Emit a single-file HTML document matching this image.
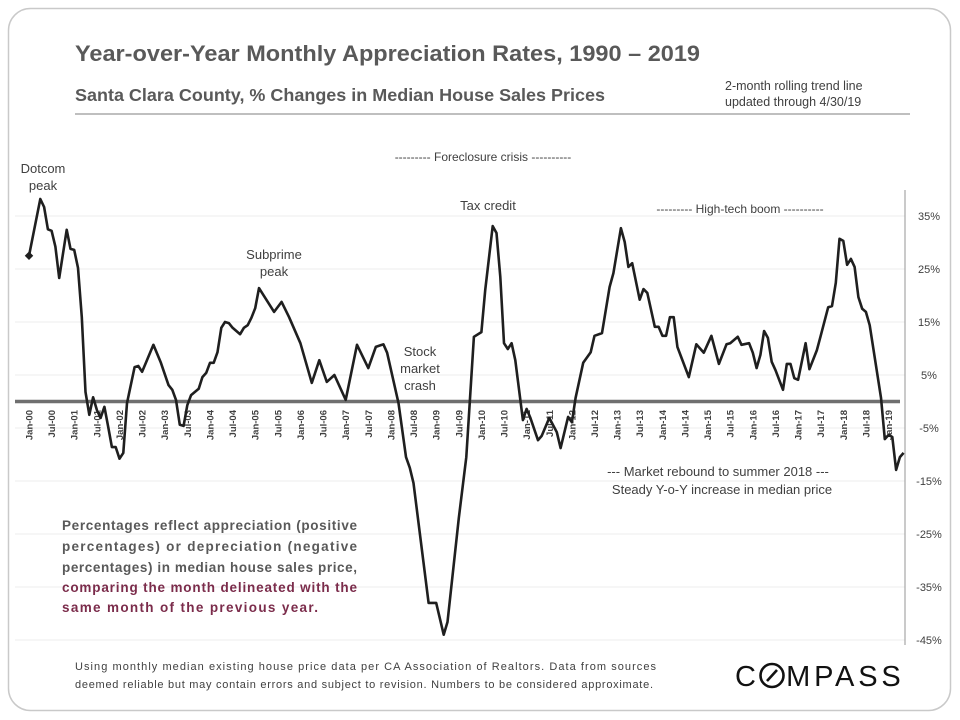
<!DOCTYPE html>
<html><head><meta charset="utf-8"><style>
html,body{margin:0;padding:0;background:#fff;}
svg{display:block;font-family:"Liberation Sans",sans-serif;}
</style></head><body>
<svg id="chart" width="960" height="720" viewBox="0 0 960 720">
<rect x="8.5" y="8.5" width="942" height="702" rx="22" fill="#fff" stroke="#c9c9c9" stroke-width="1.5"/>
<text x="75" y="61" font-size="22" font-weight="bold" fill="#595959" textLength="625" lengthAdjust="spacingAndGlyphs">Year-over-Year Monthly Appreciation Rates, 1990 – 2019</text>
<text x="75" y="101" font-size="17.5" font-weight="bold" fill="#595959" textLength="530" lengthAdjust="spacingAndGlyphs">Santa Clara County, % Changes in Median House Sales Prices</text>
<text x="725" y="90" font-size="12.5" fill="#404040">2-month rolling trend line</text>
<text x="725" y="106" font-size="12.5" fill="#404040">updated through 4/30/19</text>
<line x1="75" y1="114" x2="910" y2="114" stroke="#7f7f7f" stroke-width="1"/>
<g id="grid"></g>
<g id="xticks"></g>
<g id="yticks"></g>
<line x1="905" y1="190" x2="905" y2="645" stroke="#a6a6a6" stroke-width="1.2"/>
<g id="series"></g>
<g font-size="13" fill="#404040" text-anchor="middle">
<text x="43" y="173">Dotcom</text>
<text x="43" y="190">peak</text>
<text x="483" y="161" font-size="12">--------- Foreclosure crisis ----------</text>
<text x="488" y="210">Tax credit</text>
<text x="740" y="213" font-size="12">--------- High-tech boom ----------</text>
<text x="274" y="259">Subprime</text>
<text x="274" y="276">peak</text>
<text x="420" y="356">Stock</text>
<text x="420" y="373">market</text>
<text x="420" y="390">crash</text>
<text x="718" y="476">--- Market rebound to summer 2018 ---</text>
<text x="722" y="494">Steady Y-o-Y increase in median price</text>
</g>
<g font-size="13.5" font-weight="bold">
<text x="62" y="530" textLength="295" lengthAdjust="spacing" fill="#595959">Percentages reflect appreciation (positive</text>
<text x="62" y="551" textLength="295" lengthAdjust="spacing" fill="#595959">percentages) or depreciation (negative</text>
<text x="62" y="572" textLength="295" lengthAdjust="spacing" fill="#595959">percentages) in median house sales price,</text>
<text x="62" y="592" textLength="295" lengthAdjust="spacing" fill="#7b2c4b">comparing the month delineated with the</text>
<text x="62" y="612" textLength="256" lengthAdjust="spacing" fill="#7b2c4b">same month of the previous year.</text>
</g>
<g font-size="11" fill="#404040">
<text x="75" y="670" textLength="581" lengthAdjust="spacing">Using monthly median existing house price data per CA Association of Realtors. Data from sources</text>
<text x="75" y="688" textLength="578" lengthAdjust="spacing">deemed reliable but may contain errors and subject to revision. Numbers to be considered approximate.</text>
</g>
<g>
<text x="735" y="686" font-size="29" fill="#111" letter-spacing="3.8">C<tspan fill="#fff">O</tspan>MPASS</text>
<circle cx="772" cy="675.5" r="11.5" fill="none" stroke="#111" stroke-width="2.6"/>
<line x1="767" y1="681" x2="777" y2="670" stroke="#111" stroke-width="2.6"/>
</g>
</svg>
<script>
const months = [0,3,4,5,6,7,8,10,11,12,13,14,15,16,17,18,19,20,21,22,23,24,25,26,28,29,30,31,33,35,37,38,39,40,41,42,43,45,46,47,48,49,50,51,52,53,54,56,57,58,59,60,61,62,65,67,69,72,75,77,79,81,84,87,90,92,94,95,98,100,101,102,106,108,110,111,114,116,118,120,121,123,124,125,126,127,128,129,131,132,133,135,136,138,140,141,143,144,145,147,149,150,152,154,155,157,158,159,160,162,163,164,166,167,168,169,170,171,172,173,175,177,179,181,183,185,186,188,189,191,192,193,194,195,196,197,198,200,201,202,203,204,206,207,209,210,212,213,214,215,216,217,218,219,220,221,222,223,226,227,228,229,230,231,232];
const values = [27.5,38.2,36.7,32.5,32.2,29.2,23.3,32.4,28.8,28.6,25.2,15.9,1.8,-2.5,0.8,-1.6,-3.1,-1,-4.8,-8.6,-8.6,-10.8,-9.7,-0.3,6.5,6.7,5.6,7.3,10.7,7.3,3.1,2.2,0.3,-4.4,-4.6,-0.7,1.2,2.4,4.6,5.4,7.3,7.3,9.3,13.9,15,14.8,13.9,12.7,13.9,14.4,15.8,17.6,21.4,20.3,16.9,18.8,15.9,11,3.5,7.8,3.7,5,0.3,10.7,6.3,10.3,10.8,9.2,-0.3,-10.5,-12.5,-15.4,-38,-38,-44,-41.6,-22,-10.5,12.2,13.1,21,33.1,31.8,23.5,11,9.9,11,7.8,-3.5,-1.4,-3.1,-7.3,-6.5,-3.1,-5.8,-8.8,-2.9,-3.9,0.7,7.3,9.3,12.4,12.9,21.6,24.2,32.7,30.1,25.4,26.1,19.2,21.2,20.5,14.1,14.1,12.4,12.4,15.9,15.9,10.3,8.4,4.6,10.8,9.2,12.4,7.1,10.8,11,12.2,10.7,11,9.2,6.3,8.8,13.3,12,7.5,5.9,2.2,7.1,7.1,4.4,4.1,11,6.1,9.7,12.4,17.8,18,22.4,30.7,30.3,25.8,26.9,25.4,19.7,17.5,16.9,14.4,0.7,-7.1,-6.3,-6.7,-12.9,-10.5,-9.7];
const yTicks = [35,25,15,5,-5,-15,-25,-35,-45];
const yTickLabels = ["35%","25%","15%","5%","-5%","-15%","-25%","-35%","-45%"];
const xTickLabels = ["Jan-00","Jul-00","Jan-01","Jul-01","Jan-02","Jul-02","Jan-03","Jul-03","Jan-04","Jul-04","Jan-05","Jul-05","Jan-06","Jul-06","Jan-07","Jul-07","Jan-08","Jul-08","Jan-09","Jul-09","Jan-10","Jul-10","Jan-11","Jul-11","Jan-12","Jul-12","Jan-13","Jul-13","Jan-14","Jul-14","Jan-15","Jul-15","Jan-16","Jul-16","Jan-17","Jul-17","Jan-18","Jul-18","Jan-19"];

const NS = "http://www.w3.org/2000/svg";
function xScale(m){ return 29 + m * 3.77; }
function yScale(v){ return 401.5 - v * 5.3; }
function mk(tag, attrs, parent){ const e=document.createElementNS(NS,tag); for(const k in attrs) e.setAttribute(k,attrs[k]); parent.appendChild(e); return e; }

const grid=document.getElementById('grid'), yt=document.getElementById('yticks'), xt=document.getElementById('xticks'), ser=document.getElementById('series');
yTicks.forEach((t,i)=>{
  const l=mk('line',{x1:15,x2:905,y1:yScale(t),y2:yScale(t),stroke:'#ececec','stroke-width':1},grid);
  
  
  const tx=mk('text',{x:929,y:yScale(t)+4,'font-size':11,fill:'#404040','text-anchor':'middle'},yt);
  tx.textContent=yTickLabels[i];
  
  
});
xTickLabels.forEach((lab,i)=>{
  const x=xScale(i*6)+3.5;
  const tx=mk('text',{x:x,y:410,'font-size':9.5,'font-weight':'bold',fill:'#404040','text-anchor':'end',transform:'rotate(-90 '+x+' 410)'},xt);
  tx.textContent=lab;
  
  
});
const zl=mk('line',{x1:15,x2:900,y1:yScale(0),y2:yScale(0),stroke:'#6f6f6f','stroke-width':3.5},ser);


const d=months.map((m,i)=>(i?'L':'M')+xScale(m).toFixed(1)+' '+yScale(values[i]).toFixed(1)).join(' ');
const p=mk('path',{d:d,fill:'none',stroke:'#1f1f1f','stroke-width':2.6,'stroke-linejoin':'round'},ser);


const dm=mk('rect',{x:xScale(months[0])-3,y:yScale(values[0])-3,width:6,height:6,fill:'#1f1f1f',transform:'rotate(45 '+xScale(months[0])+' '+yScale(values[0])+')'},ser);


</script>
</body></html>
